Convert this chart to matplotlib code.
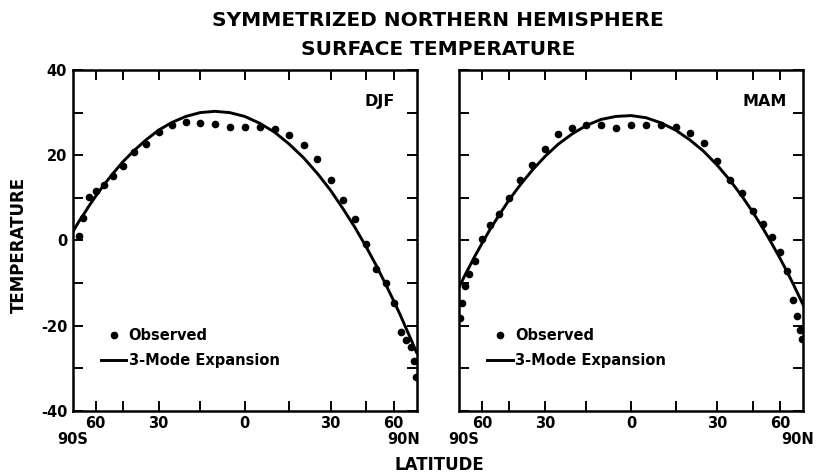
import numpy as np
import matplotlib
matplotlib.use("Agg")
import matplotlib.pyplot as plt

# observed zonal means, 5 deg latitude grid (deg C)
lat_djf = [-75, -70, -65, -60, -55, -50, -45, -40, -35, -30, -25, -20, -15, -10, -5, 0,
           5, 10, 15, 20, 25, 30, 35, 40, 45, 50, 55, 60, 65, 70, 75, 80, 85]
obs_djf = [1.1, 5.2, 10.1, 11.7, 13.1, 15.0, 17.5, 20.7, 22.7, 25.4, 27.1, 27.9, 27.5, 27.3, 26.6, 26.7,
           26.6, 26.1, 24.8, 22.4, 19.1, 14.2, 9.5, 5.0, -0.9, -6.8, -9.9, -14.6, -21.4, -23.4, -25.0, -28.3, -32.0]

lat_mam = [-85, -80, -75, -70, -65, -60, -55, -50, -45, -40, -35, -30, -25, -20, -15, -10, -5, 0,
           5, 10, 15, 20, 25, 30, 35, 40, 45, 50, 55, 60, 65, 70, 75, 80, 85]
obs_mam = [-18.3, -14.8, -10.8, -8.0, -4.8, 0.4, 3.5, 6.2, 9.9, 14.2, 17.6, 21.5, 25.0, 26.4, 27.1, 27.0, 26.5, 27.1,
           27.0, 27.1, 26.7, 25.2, 22.8, 18.7, 14.1, 11.2, 6.9, 3.9, 0.9, -2.8, -7.3, -14.0, -17.7, -21.0, -23.2]

# 3-mode expansion curves, read every 5 deg
lat_fit = [-90, -85, -80, -75, -70, -65, -60, -55, -50, -45, -40, -35, -30, -25, -20, -15, -10, -5, 0,
           5, 10, 15, 20, 25, 30, 35, 40, 45, 50, 55, 60, 65, 70, 75, 80, 85, 90]
fit_djf = [2.0, 2.2, 3.0, 4.3, 5.9, 8.0, 10.4, 13.0, 15.7, 18.5, 21.1, 23.6, 25.9, 27.7, 29.1, 30.0, 30.3, 30.0, 29.1,
           27.5, 25.4, 22.6, 19.4, 15.7, 11.7, 7.3, 2.9, -1.6, -6.0, -10.3, -14.2, -17.7, -20.8, -23.2, -25.0, -26.1, -26.4]
fit_mam = [-11.0, -10.7, -9.8, -8.2, -6.2, -3.6, -0.7, 2.6, 6.0, 9.6, 13.1, 16.5, 19.7, 22.6, 25.0, 27.0, 28.4, 29.1, 29.3,
           28.8, 27.6, 25.9, 23.6, 20.9, 17.7, 14.2, 10.5, 6.7, 2.9, -0.8, -4.2, -7.3, -10.0, -12.2, -13.8, -14.8, -15.1]

seasons = ["DJF", "MAM"]


def fwd(x):
    return np.sin(np.radians(np.clip(x, -90, 90)))


def inv(s):
    return np.degrees(np.arcsin(np.clip(s, -1, 1)))


plt.rcParams['font.family'] = 'DejaVu Sans'
plt.rcParams['font.weight'] = 'bold'
plt.rcParams['axes.unicode_minus'] = False

fig = plt.figure(figsize=(8.16, 4.74), dpi=100)
ax1 = fig.add_axes([0.0891, 0.1335, 0.4216, 0.7188])
ax2 = fig.add_axes([0.5625, 0.1335, 0.4216, 0.7188])

panels = [(ax1, lat_djf, obs_djf, fit_djf), (ax2, lat_mam, obs_mam, fit_mam)]
for i, (ax, lat, obs, fit) in enumerate(panels):
    ax.set_xscale('function', functions=(fwd, inv))
    ax.plot(lat, obs, 'o', color='black', markersize=4.5, label='Observed')
    ax.plot(lat_fit, fit, '-', color='black', linewidth=2.1, label='3-Mode Expansion')
    ax.set_xlim(-90, 90)
    ax.set_ylim(-40, 40)

    ax.set_xticks([-60, -30, 0, 30, 60])
    ax.set_xticklabels(['60', '30', '0', '30', '60'])
    ax.set_xticks([-45, -15, 15, 45], minor=True)
    ax.set_yticks([-40, -20, 0, 20, 40])
    ax.set_yticks([-30, -10, 10, 30], minor=True)

    ax.tick_params(which='both', direction='in', top=True, right=True,
                   length=7, width=1.4, labelsize=10.5, pad=4)
    if i == 1:
        ax.tick_params(labelleft=False)
    for sp in ax.spines.values():
        sp.set_linewidth(1.8)

    # pole labels under the axis ends
    ax.text(-0.046 if i == 0 else -0.032, -0.062, "90S", transform=ax.transAxes,
            ha='left', va='top', fontsize=10.5)
    ax.text(1.01 if i == 0 else 1.033, -0.062, "90N", transform=ax.transAxes,
            ha='right', va='top', fontsize=10.5)

    ax.text(0.937 if i == 0 else 0.953, 0.907, seasons[i], transform=ax.transAxes,
            ha='right', va='center', fontsize=11.5)

    ax.legend(loc='center left', bbox_to_anchor=(0.082, 0.184), frameon=False,
              fontsize=10.5, handlelength=1.75, handletextpad=0.15, borderpad=0,
              borderaxespad=0, labelspacing=0.72, numpoints=1)

fig.text(0.537, 0.957, "SYMMETRIZED NORTHERN HEMISPHERE", ha='center', va='center', fontsize=14.5)
fig.text(0.537, 0.895, "SURFACE TEMPERATURE", ha='center', va='center', fontsize=14.5)
fig.text(0.023, 0.484, "TEMPERATURE", rotation=90, ha='center', va='center', fontsize=12)
fig.text(0.538, 0.019, "LATITUDE", ha='center', va='center', fontsize=12)

fig.savefig("out.png", dpi=100)
